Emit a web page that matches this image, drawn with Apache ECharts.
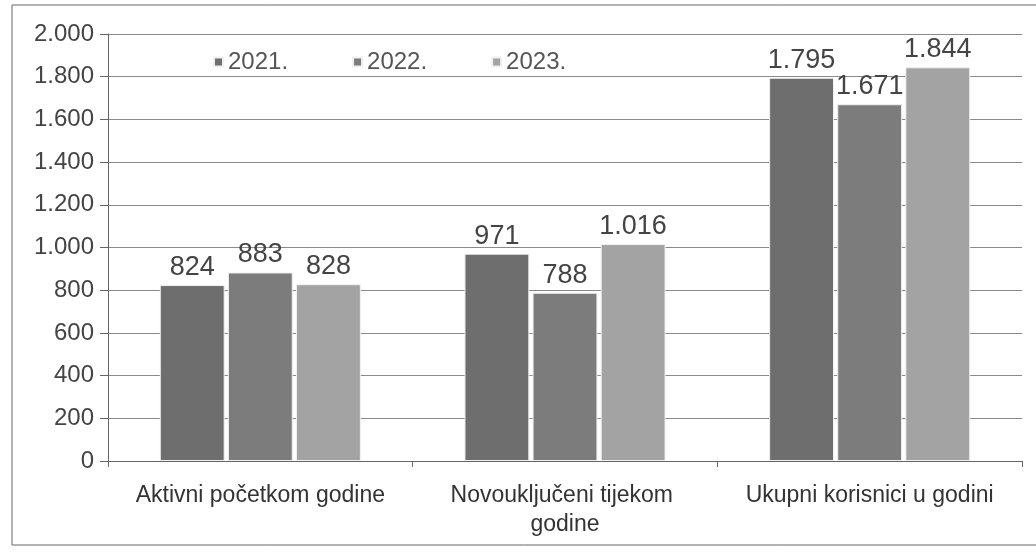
<!DOCTYPE html>
<html>
<head>
<meta charset="utf-8">
<script src="https://cdn.jsdelivr.net/npm/echarts@6/dist/echarts.min.js"></script>
<style>
  html, body { margin: 0; padding: 0; background: #fff; }
  #chart { width: 1036px; height: 553px; }
</style>
</head>
<body>
<div id="chart"></div>
<script>
// podaci s grafikona
const categories = ['Aktivni početkom godine', 'Novouključeni tijekom godine', 'Ukupni korisnici u godini'];
const years = ['2021.', '2022.', '2023.'];
const values2021 = [824, 971, 1795];
const values2022 = [883, 788, 1671];
const values2023 = [828, 1016, 1844];
const colors = ['#6e6e6e', '#7c7c7c', '#a3a3a3'];

// 1795 -> "1.795"
function fmt(v) {
    return String(v).replace(/\B(?=(\d{3})+(?!\d))/g, '.');
}

const font = '"Liberation Sans", Arial, sans-serif';
const seriesData = [values2021, values2022, values2023];

let chart = echarts.init(document.getElementById('chart'));
chart.setOption({
    animation: false,
    backgroundColor: '#fff',
    textStyle: { fontFamily: font },
    color: colors,
    legend: {
        top: 45,
        left: 208,
        itemGap: 64,
        itemWidth: 9,
        itemHeight: 9,
        icon: 'rect',
        textStyle: { fontSize: 24, color: '#555', fontFamily: font },
        data: years
    },
    grid: { left: 108, right: 14, top: 34, bottom: 92 },
    xAxis: {
        type: 'category',
        data: categories,
        axisLine: { lineStyle: { color: '#666' } },
        axisTick: { show: true, length: 6, lineStyle: { color: '#666' } },
        axisLabel: {
            fontSize: 23, color: '#333', margin: 20, lineHeight: 29,
            width: 300, overflow: 'break', interval: 0
        }
    },
    yAxis: {
        type: 'value',
        min: 0, max: 2000, interval: 200,
        axisLine: { show: true, lineStyle: { color: '#666' } },
        axisTick: { show: true, length: 8, lineStyle: { color: '#666' } },
        axisLabel: { fontSize: 24, color: '#444', margin: 14, formatter: fmt },
        splitLine: { lineStyle: { color: '#8a8a8a', width: 1 } }
    },
    graphic: [{
        type: 'rect',
        shape: { x: 12, y: 5, width: 1030, height: 540 },
        style: { fill: 'none', stroke: '#666', lineWidth: 1 },
        silent: true
    }],
    series: years.map((y, i) => ({
        name: y,
        type: 'bar',
        data: seriesData[i],
        barGap: '5%',
        barCategoryGap: '34%',
        itemStyle: { borderColor: '#f0f0f0', borderWidth: 1 },
        label: {
            show: true, position: 'top', distance: 4,
            fontSize: 27, color: '#444',
            formatter: p => fmt(p.value)
        }
    }))
});
</script>
</body>
</html>
